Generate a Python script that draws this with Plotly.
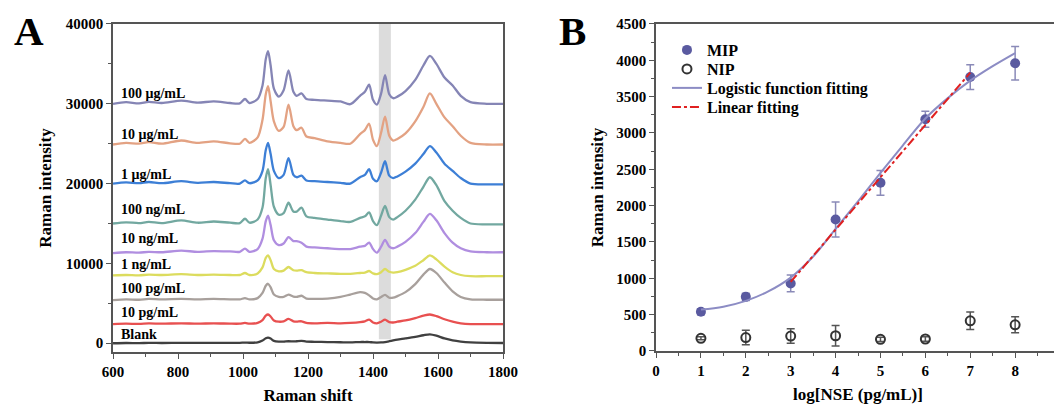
import plotly.graph_objects as go

# ---- panel A: Raman spectra (cm-1 grid shared by all spectra) ----
shift = [600, 640, 680, 710, 750, 810, 860, 910, 960, 990, 1006, 1020, 1045, 1060, 1070, 1077, 1085, 1095,
         1110, 1125, 1140, 1155, 1165, 1180, 1195, 1220, 1260, 1300, 1330, 1360, 1375, 1388, 1400, 1412,
         1425, 1437, 1450, 1462, 1475, 1500, 1530, 1555, 1575, 1595, 1620, 1645, 1670, 1700, 1750, 1800]

s_100ug = [30000, 30200, 30050, 30250, 30100, 30400, 30150, 30300, 30100, 30050, 30600, 30100, 30600, 32300,
           35600, 36600, 34800, 31900, 30900, 31700, 34200, 31500, 31000, 31300, 30600, 30500, 30400, 30300,
           29950, 31000, 31500, 32400, 30500, 29900, 31300, 33600, 31200, 30700, 30900, 31600, 33000, 34800,
           36000, 35000, 33300, 32300, 31000, 30200, 30000, 30000]
s_10ug = [24900, 25100, 25000, 25200, 25000, 25400, 25100, 25300, 25050, 25000, 25600, 25100, 25800, 28000,
          31200, 32200, 30300, 27800, 26600, 27100, 29900, 27200, 26700, 27000, 25900, 25700, 25300, 25100,
          25000, 26200, 26700, 27500, 25500, 24700, 26400, 28400, 26000, 25400, 25600, 26300, 27800, 29600,
          31300, 30000, 28300, 27200, 26000, 25100, 24900, 24900]
s_1ug = [20000, 20150, 20050, 20200, 20050, 20300, 20100, 20200, 20050, 20000, 20400, 20050, 20400, 21600,
         24200, 25100, 23700, 21600, 20700, 21100, 23200, 21100, 20800, 21000, 20400, 20300, 20200, 20100,
         20000, 20800, 21100, 21800, 20600, 20300, 21400, 22800, 21000, 20700, 20900, 21500, 22500, 23700,
         24700, 23900, 22500, 21600, 20700, 20000, 19900, 19900]
s_100ng = [15000, 15150, 15050, 15200, 15050, 15400, 15100, 15250, 15100, 15050, 15600, 15100, 15500, 17000,
           20700, 21800, 19800, 17100, 16100, 16300, 17600, 16500, 16500, 17000, 15900, 15700, 15500, 15300,
           15200, 15700, 15900, 16400, 15300, 14800, 16000, 17200, 15800, 15500, 15800, 16600, 18000, 19600,
           20800, 19800, 17800, 16600, 15700, 15000, 14900, 14900]
s_10ng = [11300, 11400, 11350, 11450, 11400, 11600, 11450, 11550, 11500, 11450, 11850, 11450, 11800, 13100,
          15300, 16000, 14800, 12900, 12300, 12500, 13300, 12800, 12800, 12600, 12100, 12000, 11900, 11800,
          11800, 12100, 12200, 12600, 11800, 11350, 12100, 12950, 12100, 11900, 12100, 12700, 13800, 15200,
          16200, 15400, 13800, 12600, 11900, 11500, 11400, 11400]
s_1ng = [8500, 8550, 8500, 8600, 8550, 8650, 8550, 8600, 8550, 8550, 8800, 8550, 8750, 9500,
         10700, 11000, 10400, 9300, 9000, 9100, 9550, 9150, 9100, 9150, 8900, 8800, 8750, 8700,
         8700, 8800, 8850, 9050, 8750, 8650, 8900, 9300, 8950, 8850, 8900, 9200, 9700, 10400,
         11000, 10500, 9600, 8900, 8550, 8400, 8400, 8400]
s_100pg = [5400, 5500, 5450, 5550, 5500, 5550, 5500, 5550, 5500, 5500, 5650, 5500, 5650, 6300,
           7200, 7450, 7000, 6100, 5800, 5800, 6100, 5850, 5800, 5950, 5600, 5550, 5600, 5800,
           6100, 6400, 6300, 6000, 5600, 5500, 5800, 6050, 5700, 5700, 5900, 6400, 7400, 8600,
           9300, 8800, 7600, 6500, 5800, 5500, 5450, 5450]
s_10pg = [2400, 2450, 2420, 2480, 2450, 2500, 2450, 2500, 2450, 2450, 2550, 2450, 2550, 2900,
          3450, 3600, 3350, 2850, 2700, 2750, 3050, 2750, 2700, 2750, 2550, 2500, 2550, 2500,
          2550, 2650, 2750, 2950, 2600, 2500, 2700, 2950, 2650, 2600, 2700, 2850, 3150, 3450,
          3600, 3400, 3000, 2700, 2500, 2400, 2400, 2400]
s_blank = [0, 30, 20, 40, 30, 50, 40, 50, 40, 50, 80, 60, 120, 350,
           620, 700, 580, 300, 200, 200, 250, 220, 250, 300, 200, 180, 150, 120,
           100, 150, 150, 150, 100, 80, 100, 150, 250, 350, 450, 600, 800, 1000,
           1120, 950, 600, 350, 200, 100, 50, 30]

spec_names = ['100 μg/mL', '10 μg/mL', '1 μg/mL', '100 ng/mL', '10 ng/mL', '1 ng/mL', '100 pg/mL', '10 pg/mL', 'Blank']
spec_label_y = [31300, 26200, 21200, 16700, 13100, 9900, 6900, 3900, 1100]
spectra = [s_100ug, s_10ug, s_1ug, s_100ng, s_10ng, s_1ng, s_100pg, s_10pg, s_blank]
spec_colors = ['#8585b5', '#e3a283', '#3d7fd6', '#72a8a0', '#b08ee0', '#dcdc5e', '#a8a09c', '#e85050', '#404040']

# ---- panel B: calibration ----
log_c = [1, 2, 3, 4, 5, 6, 7, 8]
mip = [540, 745, 930, 1810, 2315, 3190, 3770, 3960]
mip_err = [40, 50, 115, 240, 170, 110, 170, 230]
nip = [175, 185, 205, 210, 160, 165, 415, 360]
nip_err = [20, 100, 100, 140, 30, 30, 120, 110]

logi_x = [1, 1.5, 2, 2.5, 3, 3.5, 4, 4.5, 5, 5.5, 6, 6.5, 7, 7.5, 8]
logi_y = [570, 610, 690, 820, 1010, 1300, 1680, 2060, 2450, 2830, 3200, 3480, 3720, 3920, 4100]
lin_x = [3, 7]
lin_y = [950, 3830]

serif = 'Liberation Serif'
tf = dict(family=serif, size=15, color='black', weight='bold')
title_font = dict(family=serif, size=17, color='black', weight='bold')
leg_font = dict(family=serif, size=16, color='black', weight='bold')

fig = go.Figure()

for name, ys, col in zip(spec_names, spectra, spec_colors):
    fig.add_trace(go.Scatter(x=shift, y=ys, mode='lines', line=dict(color=col, width=2.3, shape='spline', smoothing=0.8),
                             showlegend=False, xaxis='x', yaxis='y'))

for name, yl in zip(spec_names, spec_label_y):
    fig.add_annotation(x=618, y=yl, xref='x', yref='y', text=name, showarrow=False, xanchor='left',
                       yanchor='middle', font=dict(family=serif, size=14, color='black', weight='bold'))

fig.add_shape(type='rect', x0=1418, x1=1455, y0=500, y1=40000, xref='x', yref='y',
              fillcolor='#dcdcdc', line_width=0, layer='below')

fig.add_trace(go.Scatter(x=log_c, y=mip, mode='markers', name='MIP', xaxis='x2', yaxis='y2', legend='legend',
                         marker=dict(color='#5a5aa0', size=10),
                         error_y=dict(array=mip_err, color='#8a8ab8', thickness=1.5, width=4)))
fig.add_trace(go.Scatter(x=log_c, y=nip, mode='markers', name='NIP', xaxis='x2', yaxis='y2', legend='legend2',
                         marker=dict(color='#333333', size=9, symbol='circle-open', line=dict(color='#333333', width=2)),
                         error_y=dict(array=nip_err, color='#555555', thickness=1.5, width=4)))
fig.add_trace(go.Scatter(x=logi_x, y=logi_y, mode='lines', name='Logistic function fitting', xaxis='x2', yaxis='y2',
                         legend='legend3', line=dict(color='#8c8cc4', width=2, shape='spline')))
fig.add_trace(go.Scatter(x=lin_x, y=lin_y, mode='lines', name='Linear fitting', xaxis='x2', yaxis='y2',
                         legend='legend4', line=dict(color='#e02020', width=2, dash='dashdot')))

axis_common = dict(showline=True, mirror=True, linecolor='#555', linewidth=1.5, ticks='outside', ticklen=5,
                   tickcolor='#555', showgrid=False, zeroline=False, tickfont=tf, automargin=False)


def leg(ypos):
    return dict(x=0.6205, y=ypos, xanchor='left', yanchor='middle', bgcolor='rgba(0,0,0,0)',
                font=leg_font, itemwidth=30)


fig.update_layout(
    width=1062, height=405, margin=dict(l=0, r=0, t=0, b=0),
    plot_bgcolor='white', paper_bgcolor='white',
    xaxis=dict(domain=[0.0989, 0.4661], range=[600, 1800], tickvals=[600, 800, 1000, 1200, 1400, 1600, 1800],
               minor=dict(ticks='outside', ticklen=3, dtick=100, tickcolor='#555'),
               title=dict(text='Raman shift', font=title_font, standoff=10),
               **axis_common),
    yaxis=dict(domain=[0.1506, 0.9605], range=[-1100, 40000], tickvals=[0, 10000, 20000, 30000, 40000],
               tickformat='d',
               minor=dict(ticks='outside', ticklen=3, dtick=5000, tickcolor='#555'),
               title=dict(text='Raman intensity', font=title_font, standoff=10),
               **axis_common),
    xaxis2=dict(domain=[0.6102, 0.9906], range=[0, 9], anchor='y2', dtick=1, ticklabeloverflow='allow',
                minor=dict(ticks='outside', ticklen=3, dtick=0.5, tickcolor='#555'),
                title=dict(text='log[NSE (pg/mL)]', font=title_font, standoff=10),
                **axis_common),
    yaxis2=dict(domain=[0.1531, 0.9605], range=[0, 4500], anchor='x2', dtick=500,
                minor=dict(ticks='outside', ticklen=3, dtick=250, tickcolor='#555'),
                title=dict(text='Raman intensity', font=title_font, standoff=8),
                **axis_common),
    legend=leg(0.8963),
    legend2=leg(0.8494),
    legend3=leg(0.8025),
    legend4=leg(0.7556),
)

fig.add_annotation(x=0.004, y=1.005, xref='paper', yref='paper', text='A', showarrow=False, xanchor='left', yanchor='top',
                   font=dict(family=serif, size=41, color='black', weight='bold'))
fig.add_annotation(x=0.517, y=1.005, xref='paper', yref='paper', text='B', showarrow=False, xanchor='left', yanchor='top',
                   font=dict(family=serif, size=41, color='black', weight='bold'))

fig.write_html("out.html")
